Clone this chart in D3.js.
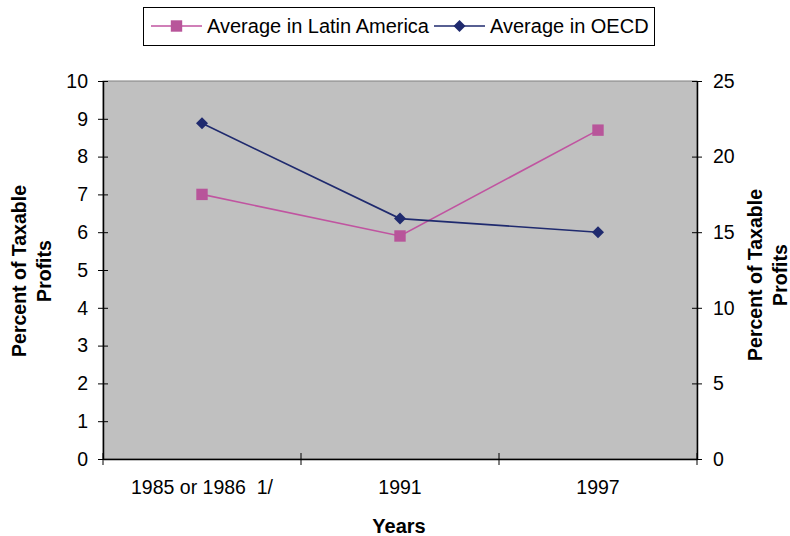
<!DOCTYPE html>
<html>
<head>
<meta charset="utf-8">
<script src="https://cdn.jsdelivr.net/npm/d3@7"></script>
<style>
  html, body { margin: 0; padding: 0; background: #fff; }
  svg text { font-family: "Liberation Sans", Arial, sans-serif; fill: #000; white-space: pre; }
</style>
</head>
<body>
<svg id="chart" width="790" height="536"></svg>
<script>
// Tax rates as a percent of taxable profits
const categories = ["1985 or 1986  1/", "1991", "1997"];
const latinAmerica = [7.0, 5.9, 8.7];   // left axis
const oecd = [22.2, 15.9, 15.0];        // right axis
const leftTicks = [0, 1, 2, 3, 4, 5, 6, 7, 8, 9, 10];
const rightTicks = [0, 5, 10, 15, 20, 25];
const seriesNames = ["Average in Latin America", "Average in OECD"];

const pink = "#C054A0", pinkMarker = "#B8559A", navy = "#1F2A6E";
const FS = "19.5px";

const svg = d3.select("#chart");
const plot = { left: 103, right: 697, top: 81, bottom: 459 };

const x = d3.scaleBand().domain(categories).range([plot.left, plot.right]);
const yL = d3.scaleLinear().domain([0, 10]).range([plot.bottom, plot.top]);
const yR = d3.scaleLinear().domain([0, 25]).range([plot.bottom, plot.top]);

// plot background
svg.append("rect")
  .attr("x", plot.left).attr("y", plot.top)
  .attr("width", plot.right - plot.left).attr("height", plot.bottom - plot.top)
  .attr("fill", "#C0C0C0").attr("stroke", "#808080").attr("stroke-width", 1);

function styleAxis(g) {
  g.select(".domain").attr("stroke", "#000").attr("stroke-width", 1.5);
  g.selectAll(".tick line").attr("stroke", "#000");
  g.selectAll(".tick text").style("font-size", FS).style("font-family", "Liberation Sans, Arial, sans-serif");
}

// left axis (ticks crossing the axis line)
const gL = svg.append("g").attr("transform", `translate(${plot.left},0)`)
  .call(d3.axisLeft(yL).tickValues(leftTicks).tickSize(5).tickPadding(10).tickSizeOuter(0));
gL.selectAll(".tick line").attr("x1", 5).attr("x2", -5);
styleAxis(gL);

// right axis
const gR = svg.append("g").attr("transform", `translate(${plot.right},0)`)
  .call(d3.axisRight(yR).tickValues(rightTicks).tickSize(5).tickPadding(11).tickSizeOuter(0));
gR.selectAll(".tick line").attr("x1", -5).attr("x2", 5);
styleAxis(gR);

// bottom axis: labels at band centres, tick marks on band edges
const gB = svg.append("g").attr("transform", `translate(0,${plot.bottom})`)
  .call(d3.axisBottom(x).tickSize(0).tickPadding(21).tickSizeOuter(0));
styleAxis(gB);
gB.selectAll(".tick text").attr("dy", "0.71em");
const edges = categories.map(c => x(c)).concat([x.range()[1]]);
gB.selectAll(".edge").data(edges).join("line")
  .attr("x1", d => d).attr("x2", d => d).attr("y1", -6).attr("y2", 6)
  .attr("stroke", "#000");

// series lines and markers
const cx = c => x(c) + x.bandwidth() / 2;
const lineL = d3.line().x((d, i) => cx(categories[i])).y(d => yL(d));
const lineR = d3.line().x((d, i) => cx(categories[i])).y(d => yR(d));

svg.append("path").datum(latinAmerica).attr("d", lineL)
  .attr("fill", "none").attr("stroke", pink).attr("stroke-width", 1.6);
svg.append("path").datum(oecd).attr("d", lineR)
  .attr("fill", "none").attr("stroke", navy).attr("stroke-width", 1.6);

const sq = d3.symbol().type(d3.symbolSquare).size(130);
const dia = d3.symbol().type(d3.symbolSquare).size(72);   // rotated 45° below

svg.selectAll(".ptL").data(latinAmerica).join("path")
  .attr("d", sq)
  .attr("transform", (d, i) => `translate(${cx(categories[i])},${yL(d)})`)
  .attr("fill", pinkMarker);
svg.selectAll(".ptR").data(oecd).join("path")
  .attr("d", dia)
  .attr("transform", (d, i) => `translate(${cx(categories[i])},${yR(d)}) rotate(45)`)
  .attr("fill", navy);

// axis titles
function yTitle(cxPos, cy) {
  const t = svg.append("text")
    .attr("transform", `translate(${cxPos},${cy}) rotate(-90)`)
    .attr("text-anchor", "middle")
    .style("font-size", FS).style("font-weight", "bold");
  t.append("tspan").attr("x", 0).attr("dy", "0").text("Percent of Taxable");
  t.append("tspan").attr("x", 0).attr("dy", "1.3em").text("Profits");
}
yTitle(26, 271);
yTitle(762, 275);

svg.append("text").attr("x", 399).attr("y", 533)
  .attr("text-anchor", "middle")
  .style("font-size", "20px").style("font-weight", "bold")
  .text("Years");

// legend
const legend = svg.append("g");
legend.append("rect").attr("x", 143.5).attr("y", 7.5).attr("width", 511).attr("height", 38)
  .attr("fill", "#fff").attr("stroke", "#000").attr("stroke-width", 1);

const legendItems = [
  { name: seriesNames[0], color: pink, mcolor: pinkMarker, sym: sq, rot: 0, x0: 151, tx: 207 },
  { name: seriesNames[1], color: navy, mcolor: navy, sym: dia, rot: 45, x0: 434, tx: 490 }
];
legendItems.forEach(it => {
  legend.append("line").attr("x1", it.x0).attr("x2", it.x0 + 51).attr("y1", 26).attr("y2", 26)
    .attr("stroke", it.color).attr("stroke-width", 1.6);
  legend.append("path").attr("d", it.sym)
    .attr("transform", `translate(${it.x0 + 25.5},26) rotate(${it.rot})`).attr("fill", it.mcolor);
  legend.append("text").attr("x", it.tx).attr("y", 33)
    .style("font-size", "20px").text(it.name);
});
</script>
</body>
</html>
